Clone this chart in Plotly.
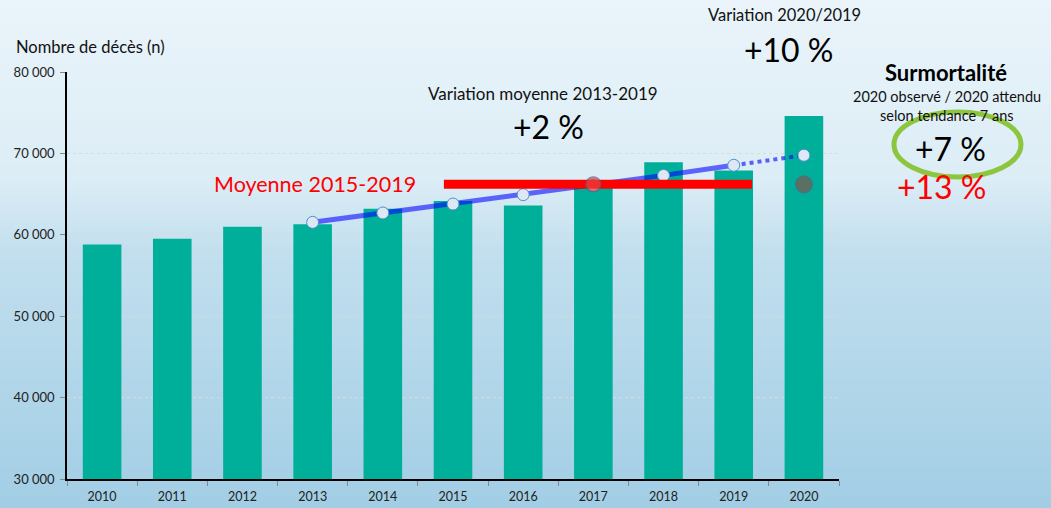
import base64, struct, zlib
import plotly.graph_objects as go

# ---------------- data ----------------
years = [2010, 2011, 2012, 2013, 2014, 2015, 2016, 2017, 2018, 2019, 2020]
deces = [58800, 59500, 61000, 61300, 63200, 64150, 63600, 66200, 68900, 67900, 74600]
trend_years = [2013, 2014, 2015, 2016, 2017, 2018, 2019]
trend_values = [61530, 62680, 63780, 64930, 66080, 67300, 68540]
proj_years = [2019, 2020]
proj_values = [68540, 69770]
mean_years = [2015, 2019]
mean_value = 66200
mean_marker_years = [2017, 2020]
mean_marker_values = [66200, 66200]
y_ticks = [30000, 40000, 50000, 60000, 70000, 80000]

# ---------------- geometry ----------------
W, H = 1051, 508
ML, MR, MT, MB = 67, 212, 72, 29
PW, PH = W - ML - MR, H - MT - MB
FONT = "Lato"


def px(x):
    return (x - ML) / PW


def py(y):
    return (H - MB - y) / PH


# ---------------- background gradient (PNG data URI) ----------------
def gradient_png(w, h, stops):
    rows = []
    for j in range(h):
        t = j / (h - 1)
        for k in range(len(stops) - 1):
            if stops[k][0] <= t <= stops[k + 1][0]:
                t0, c0 = stops[k]
                t1, c1 = stops[k + 1]
                f = (t - t0) / (t1 - t0) if t1 > t0 else 0
                c = [int(round(c0[i] + (c1[i] - c0[i]) * f)) for i in range(3)]
                break
        rows.append(b"\x00" + bytes(c) * w)
    raw = b"".join(rows)

    def chunk(tag, data):
        return struct.pack(">I", len(data)) + tag + data + struct.pack(">I", zlib.crc32(tag + data) & 0xFFFFFFFF)

    png = b"\x89PNG\r\n\x1a\n" + chunk(b"IHDR", struct.pack(">IIBBBBB", w, h, 8, 2, 0, 0, 0))
    png += chunk(b"IDAT", zlib.compress(raw)) + chunk(b"IEND", b"")
    return "data:image/png;base64," + base64.b64encode(png).decode()


bg = gradient_png(4, 128, [
    (0.0, (234, 244, 250)),
    (0.35, (220, 237, 246)),
    (0.5, (194, 223, 238)),
    (1.0, (162, 206, 229)),
])

fig = go.Figure()

fig.add_trace(go.Bar(x=years, y=deces, marker=dict(color="#00af99", line=dict(width=0)),
                     width=0.55, hoverinfo="x+y"))

# projection dotted
fig.add_trace(go.Scatter(x=proj_years, y=proj_values, mode="lines",
                         line=dict(color="rgba(0,0,255,0.6)", width=4, dash="dot")))
# trend line
fig.add_trace(go.Scatter(x=trend_years, y=trend_values, mode="lines",
                         line=dict(color="rgba(0,0,255,0.58)", width=5)))
# trend markers
fig.add_trace(go.Scatter(x=trend_years + proj_years[1:], y=trend_values + proj_values[1:], mode="markers",
                         marker=dict(size=12, color="#dde8f4", line=dict(color="#4f8fd0", width=1))))

# red mean line 2015-2019
fig.add_trace(go.Scatter(x=[mean_years[0] - 0.13, mean_years[1] + 0.26], y=[mean_value, mean_value],
                         mode="lines", line=dict(color="#ff0000", width=9)))

# mean markers
fig.add_trace(go.Scatter(x=mean_marker_years, y=mean_marker_values, mode="markers",
                         marker=dict(size=[15, 17], color=["#e84444", "#80564c"],
                                     line=dict(color="#56648a", width=1.2))))

annots = [
    dict(x=px(14), y=py(47), text="Nombre de décès (n)", size=16.5, color="#111", xanchor="left"),
    dict(x=px(784), y=py(15), text="Variation 2020/2019", size=16.5, color="#111"),
    dict(x=px(789), y=py(49), text="+10 %", size=32, color="#000"),
    dict(x=px(543), y=py(93), text="Variation moyenne 2013-2019", size=17, color="#111"),
    dict(x=px(548), y=py(126), text="+2 %", size=32, color="#000"),
    dict(x=px(315), y=py(184), text="Moyenne 2015-2019", size=21.5, color="#ff0000"),
    dict(x=px(946), y=py(73), text="<b>Surmortalité</b>", size=22, color="#000"),
    dict(x=px(947), y=py(96), text="2020 observé / 2020 attendu", size=14.5, color="#111"),
    dict(x=px(947), y=py(115), text="selon tendance 7 ans", size=14.5, color="#111"),
    dict(x=px(942), y=py(186), text="+13 %", size=32, color="#ff0000"),
    dict(x=px(950), y=py(148), text="+7 %", size=32, color="#000"),
]
annotations = []
for a in annots:
    annotations.append(dict(
        x=a["x"], y=a["y"], xref="paper", yref="paper", text=a["text"], showarrow=False,
        xanchor=a.get("xanchor", "center"), yanchor="middle",
        font=dict(family=FONT, size=a["size"], color=a["color"])))

fig.update_layout(
    width=W, height=H,
    margin=dict(l=ML, r=MR, t=MT, b=MB, pad=0, autoexpand=False),
    paper_bgcolor="#d6eaf4", plot_bgcolor="#ffffff",
    showlegend=False,
    separators=", ",
    font=dict(family=FONT, size=12, color="#222"),
    annotations=annotations,
    images=[dict(source=bg, xref="paper", yref="paper", x=-ML / PW, y=1 + MT / PH,
                 sizex=W / PW, sizey=H / PH, sizing="stretch", layer="below", xanchor="left", yanchor="top")],
    shapes=[dict(type="circle", xref="paper", yref="paper", x0=px(894), x1=px(1021), y0=py(177), y1=py(112),
                 line=dict(color="#8cc63f", width=5), layer="above")],
    xaxis=dict(range=[2009.5, 2020.5], tickvals=years, ticktext=[str(y) for y in years],
               ticks="", showgrid=False, zeroline=False, automargin=False,
               showline=True, linecolor="#000", linewidth=1.5, ticklabelstandoff=5,
               minor=dict(tick0=2009.5, dtick=1, ticks="outside", ticklen=5, tickcolor="#888", showgrid=False),
               tickfont=dict(size=12.5, color="#222"), fixedrange=True),
    yaxis=dict(range=[30000, 80000], tickvals=y_ticks, tickformat=",d", automargin=False,
               ticks="outside", ticklen=5, tickcolor="#888", ticklabelstandoff=3,
               showline=True, linecolor="#000", linewidth=1.5,
               showgrid=True, gridcolor="#d9d9d9", griddash="dot", gridwidth=1, zeroline=False,
               tickfont=dict(size=13, color="#222"), fixedrange=True),
)

fig.write_html("out.html", config={"displayModeBar": False},
               post_script="document.body.style.margin='0';document.body.style.overflow='hidden';")
